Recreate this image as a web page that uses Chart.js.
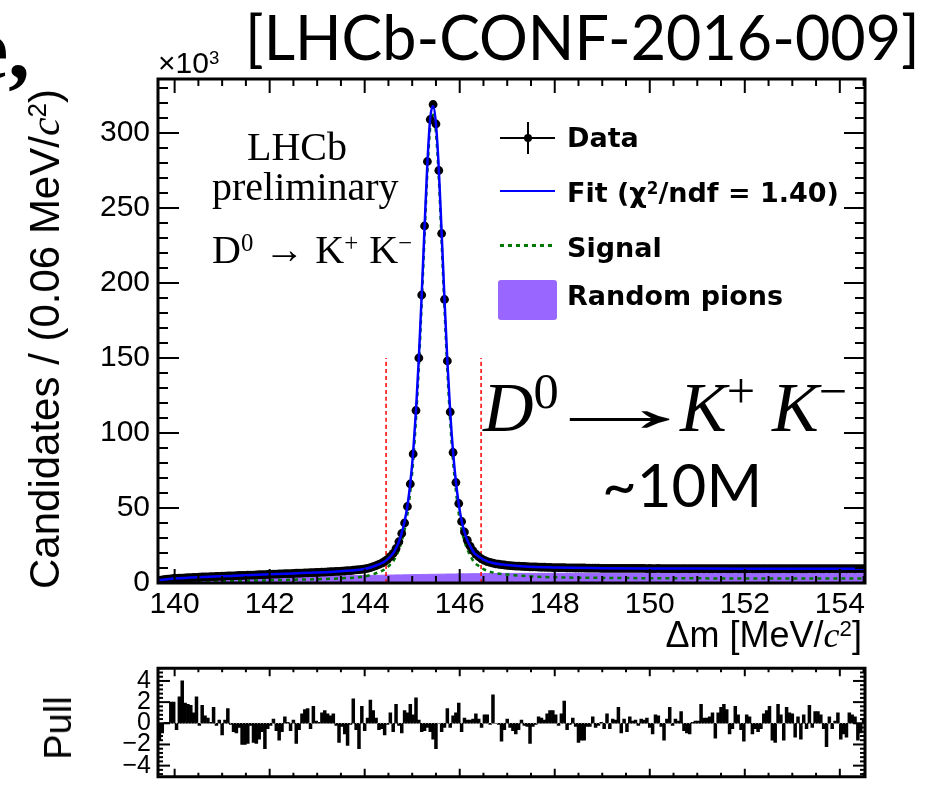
<!DOCTYPE html>
<html>
<head>
<meta charset="utf-8">
<script src="https://cdn.jsdelivr.net/npm/chart.js@4/dist/chart.umd.min.js"></script>
<style>
  html, body { margin: 0; padding: 0; background: #fff; }
  #page { position: relative; width: 929px; height: 795px; overflow: hidden; color: #000;
          font-family: "Liberation Sans", Arial, sans-serif; }
  canvas { position: absolute; left: 0; }
  .t { position: absolute; white-space: nowrap; line-height: 1; }
  .serif { font-family: "Liberation Serif", "Times New Roman", serif; }
  .geo { font-family: Lato, "DejaVu Sans", sans-serif; }
  .leg { font-family: "DejaVu Sans", sans-serif; font-weight: bold; font-size: 27px; left: 567px; }
  .tc { font-family: "Liberation Serif", serif; font-style: italic; }
  sup { font-size: 0.62em; line-height: 0; vertical-align: baseline; position: relative; top: -0.5em; }
  .big { font-size: 70px; top: 373px; }
  .big sup { font-size: 0.72em; top: -0.45em; }
  .rot { transform: translate(-50%, -50%) rotate(-90deg); }
  .sym { position: absolute; }
  .arrow { display: inline-block; transform-origin: left center; }
</style>
</head>
<body>
<div id="page">
  <canvas id="main" width="929" height="650" style="top:0"></canvas>
  <canvas id="pull" width="929" height="145" style="top:650px"></canvas>

  <div class="t serif" style="font-weight:bold;font-size:86px;left:-30px;top:6px">e,</div>
  <div class="t geo" style="font-size:61px;left:245px;top:6px">[LHCb-CONF-2016-009]</div>
  <div class="t" style="font-size:30px;left:158px;top:48px">×10<sup>3</sup></div>

  <div class="t rot" style="font-size:42px;left:45px;top:339px">Candidates / (0.06 MeV/<span class="tc">c</span><sup>2</sup>)</div>
  <div class="t" style="font-size:36px;right:67px;top:617px">Δm [MeV/<span class="tc">c</span><sup>2</sup>]</div>
  <div class="t rot" style="font-size:38px;left:58px;top:728px">Pull</div>

  <div class="t serif" style="font-size:40px;left:247px;top:127px">LHCb</div>
  <div class="t serif" style="font-size:40px;left:212px;top:167px">preliminary</div>
  <div class="t serif" style="font-size:40px;left:212px;top:230px;word-spacing:1px">D<sup>0</sup> → K<sup>+</sup> K<sup>−</sup></div>

  <!-- large decay label -->
  <div class="t serif big" style="left:483px"><i>D</i><sup>0</sup></div>
  <div class="t serif big" style="left:536px"><span class="arrow" style="transform:scaleX(2.4)">→</span></div>
  <div class="t serif big" style="left:680px"><i>K</i><sup>+</sup></div>
  <div class="t serif big" style="left:772px"><i>K</i><sup>−</sup></div>
  <div class="t geo" style="font-size:60px;left:602px;top:454px">~10M</div>

  <!-- legend -->
  <div class="sym" style="left:500px;top:137px;width:55px;height:2px;background:#000"></div>
  <div class="sym" style="left:527px;top:122px;width:2px;height:32px;background:#000"></div>
  <div class="sym" style="left:524px;top:134px;width:8px;height:8px;border-radius:50%;background:#000"></div>
  <div class="sym" style="left:500px;top:190px;width:55px;height:2px;background:#0000ff"></div>
  <div class="sym" style="left:500px;top:244px;width:55px;height:3px;background:repeating-linear-gradient(to right,#007700 0 4px,transparent 4px 8px)"></div>
  <div class="sym" style="left:498px;top:280px;width:59px;height:40px;border-radius:3px;background:rgb(153,102,255)"></div>
  <div class="t leg" style="top:124px">Data</div>
  <div class="t leg" style="top:179px">Fit (χ<sup>2</sup>/ndf = 1.40)</div>
  <div class="t leg" style="top:234px">Signal</div>
  <div class="t leg" style="top:282px">Random pions</div>
</div>

<script>
// histogram binning of Δm (MeV/c^2)
const BIN_LO = 139.65;
const BIN_W = 0.06;
const X_MIN = 139.65, X_MAX = 154.53;

// candidates per bin, in thousands
const candidates = [
  1.8, 2.1, 2.4, 2.6, 2.8, 3.0, 3.1, 3.2, 3.3, 3.4,
  3.5, 3.6, 3.7, 3.8, 3.9, 4.0, 4.0, 4.1, 4.2, 4.3,
  4.4, 4.4, 4.5, 4.6, 4.7, 4.7, 4.8, 4.9, 5.0, 5.0,
  5.1, 5.2, 5.3, 5.3, 5.4, 5.5, 5.6, 5.6, 5.7, 5.8,
  5.9, 5.9, 6.0, 6.1, 6.2, 6.2, 6.3, 6.4, 6.5, 6.5,
  6.6, 6.7, 6.8, 6.9, 6.9, 7.0, 7.1, 7.2, 7.3, 7.4,
  7.5, 7.6, 7.7, 7.8, 7.9, 8.0, 8.2, 8.3, 8.5, 8.7,
  8.9, 9.1, 9.4, 9.8, 10.3, 10.9, 11.6, 12.4, 13.3, 14.4,
  15.8, 17.6, 19.8, 23.0, 27.5, 33.0, 40.0, 51.0, 66.0, 86.0,
  115, 150, 192, 238, 281, 309, 319, 306, 275, 233,
  189, 148, 114, 87, 67, 53, 41, 34, 28.5, 24.5,
  21.5, 19.2, 17.5, 16.1, 15.1, 14.3, 13.7, 13.2, 12.8, 12.5,
  12.2, 12.0, 11.8, 11.6, 11.4, 11.3, 11.2, 11.1, 11.0, 10.9,
  10.8, 10.7, 10.7, 10.6, 10.5, 10.5, 10.4, 10.4, 10.3, 10.3,
  10.2, 10.2, 10.2, 10.1, 10.1, 10.1, 10.0, 10.0, 10.0, 10.0,
  9.9, 9.9, 9.9, 9.9, 9.9, 9.8, 9.8, 9.8, 9.8, 9.8,
  9.8, 9.8, 9.7, 9.7, 9.7, 9.7, 9.7, 9.7, 9.7, 9.7,
  9.7, 9.6, 9.7, 9.6, 9.6, 9.7, 9.6, 9.6, 9.6, 9.6,
  9.6, 9.6, 9.5, 9.6, 9.6, 9.6, 9.5, 9.6, 9.6, 9.5,
  9.6, 9.5, 9.6, 9.5, 9.5, 9.6, 9.5, 9.5, 9.6, 9.5,
  9.5, 9.5, 9.6, 9.5, 9.5, 9.5, 9.5, 9.6, 9.5, 9.5,
  9.5, 9.5, 9.5, 9.6, 9.5, 9.5, 9.5, 9.5, 9.5, 9.6,
  9.5, 9.5, 9.5, 9.5, 9.6, 9.5, 9.5, 9.5, 9.6, 9.5,
  9.5, 9.6, 9.5, 9.5, 9.6, 9.5, 9.6, 9.5, 9.6, 9.5,
  9.6, 9.5, 9.6, 9.6, 9.5, 9.6, 9.6, 9.6
];

// (data - fit) / error per bin
const pulls = [
  -1.6, -0.9, 0.1, 0.1, 2.0, 2.0, -0.6, 2.5, 4.0, 1.9,
  1.8, 1.7, 1.0, 2.5, -0.2, 1.7, 0.7, 0.5, 0.1, 1.5,
  -0.2, 0.3, -1.1, 0.3, 1.4, -0.1, -0.8, -0.9, -0.4, -2.0,
  -2.0, -1.9, -0.2, -1.8, -1.9, -1.5, -0.8, -2.4, -0.5, -0.2,
  0.4, -0.7, -1.6, -0.8, 0.6, 0.1, -0.7, 0.3, -1.9, -0.6,
  0.9, 1.3, 1.4, -0.5, 1.6, 0.2, 0.1, 1.0, 1.2, 0.9,
  0.7, 0.9, -0.2, -1.8, -0.3, -1.0, -2.1, -0.1, 2.3, -0.6,
  -2.4, 1.6, -0.7, 0.5, 2.2, 1.2, 0.5, -0.6, -0.5, -1.1,
  -0.1, 1.0,
  -0.8, 1.8, -0.2, -0.9,
  1.2, 1.0, 1.8, 0.8, 2.4, 0.3, -0.8, -0.7, -0.4, -0.8,
  -1.5, -2.4, 0.0, -0.8, -0.4, 1.4, -0.4, 0.7, 1.0, 1.9,
  -0.8, 0.5, 0.3, 0.3, 0.4, 0.9, 0.4, -0.4, 0.8, 0.8,
  -0.1, 2.7, 0.0, -0.1, -1.7, -0.6, 0.4, -0.4, -0.7, -1.0,
  -0.6, 0.3, -0.2, -0.3, -1.9, -0.3, -0.1,
  0.6, 0.5, 0.3, 0.9, 1.2, 1.2, 0.8, -0.2, 0.9, 2.1,
  -0.6, -0.1, 0.5,
  -0.3, -1.8, -1.6, -1.6, -0.3, -0.3, 0.6, -0.4,
  -0.2, 0.1, -0.5, 0.9, -0.5, 0.4, 0.3, 1.5, -0.9, 0.4,
  -0.8, 0.6, 0.2,
  0.3, -0.2, 0.4, 0.3, 0.5, -0.4, -1.0, 0.8, 0.7, -0.3,
  -1.6, 0.4, 1.5, -0.2, 0.4, 0.2, 1.1, -0.7, -0.9, -1.0,
  0.1, 0.2, 0.2, 1.8, 0.5, 0.5, 0.6, 1.0, -1.4, 1.0,
  1.5, 1.8, 1.3, -1.0, -0.5, 1.6, 0.8, -0.6, -1.7, 0.8,
  0.6, -1.0, -0.5, -0.8, -0.5, 0.9, 1.2, 1.6, -1.6, -1.8,
  1.8, 0.8, -1.6, 1.5, 1.0, 0.9, -1.3, 0.6, -1.5, 0.8,
  -0.5, 1.7, -0.4, 1.1, 1.1, 0.8, -0.5, -2.2, 0.6, -0.5,
  0.2, 1.0, -1.5, -1.0, -1.3, 1.0, 0.8, 0.6, -1.6, -0.9,
  0.4
];

// fit components sampled along Δm
const curveX = [
  139.65, 139.8, 140.0, 140.5, 141.0, 141.5, 142.0, 142.5, 143.0, 143.5, 144.0, 144.2, 144.4, 144.5, 144.6,
  144.66, 144.72, 144.78, 144.84, 144.90, 144.96, 145.02, 145.08, 145.14, 145.20, 145.26, 145.32, 145.38,
  145.44, 145.50, 145.56, 145.62, 145.68, 145.74, 145.80, 145.86, 145.92, 145.98, 146.04, 146.10, 146.16, 146.22,
  146.3, 146.4, 146.5, 146.7, 147.0, 147.5, 148.0, 149.0, 150.0, 151.0, 152.0, 153.0, 154.0, 154.53
];
const fitTotal = [
  1.7, 2.4, 3.0, 3.9, 4.5, 5.1, 5.8, 6.4, 7.0, 7.9, 9.4, 11.2, 13.9, 16.4, 19.8,
  23.2, 27.6, 33.4, 41.0, 51.5, 66.5, 87.0, 115, 150, 192, 237, 280, 310,
  318, 306, 276, 233, 189, 148, 114, 87.5, 67.5, 52.5, 41.5, 34.0, 28.6, 24.6,
  20.2, 17.6, 15.6, 13.3, 12.0, 10.8, 10.3, 9.9, 9.7, 9.6, 9.55, 9.55, 9.55, 9.55
];
const fitSignal = [
  0.4, 0.6, 0.7, 1.0, 1.2, 1.5, 1.8, 2.2, 2.5, 3.1, 4.4, 6.1, 8.7, 11.1, 14.5,
  17.8, 22.2, 28.0, 35.5, 46.0, 61.0, 81.4, 109.4, 144.4, 186.3, 231.3, 274.3, 304.2,
  312.2, 300.2, 270.1, 227.1, 183.1, 142.0, 108.0, 81.5, 61.5, 46.4, 35.4, 27.9, 22.5, 18.4,
  14.0, 11.4, 9.3, 7.0, 5.6, 4.4, 3.8, 3.4, 3.2, 3.1, 3.05, 3.05, 3.05, 3.05
];
const fitPions = [
  1.3, 1.8, 2.3, 2.9, 3.3, 3.6, 4.0, 4.2, 4.5, 4.8, 5.0, 5.1, 5.2, 5.3, 5.3,
  5.4, 5.4, 5.4, 5.5, 5.5, 5.5, 5.6, 5.6, 5.6, 5.7, 5.7, 5.7, 5.8,
  5.8, 5.8, 5.9, 5.9, 5.9, 6.0, 6.0, 6.0, 6.0, 6.1, 6.1, 6.1, 6.1, 6.2,
  6.2, 6.2, 6.3, 6.3, 6.4, 6.4, 6.5, 6.5, 6.5, 6.5, 6.5, 6.5, 6.5, 6.5
];

// signal window edges
const windowEdges = [144.45, 146.45];
const windowTop = 150;

const binCenters = candidates.map((_, i) => +(BIN_LO + BIN_W * (i + 0.5)).toFixed(3));
const pts = (xs, ys) => xs.map((x, i) => ({ x, y: ys[i] }));

const LABEL_FONT = '"Liberation Sans", Arial, sans-serif';

// ROOT-style frame with inward major/minor ticks on all four sides
function frameTicks(o) {
  return {
    id: 'frameTicks',
    afterDatasetsDraw(chart) {
      const { ctx, chartArea: a, scales: { x, y } } = chart;
      const line = (x0, y0, x1, y1) => { ctx.beginPath(); ctx.moveTo(x0, y0); ctx.lineTo(x1, y1); ctx.stroke(); };
      ctx.save();
      ctx.strokeStyle = '#000';
      ctx.lineWidth = 2;
      for (let k = Math.ceil(x.min / o.xMinor - 1e-9); k * o.xMinor <= x.max + 1e-9; k++) {
        const v = k * o.xMinor, px = x.getPixelForValue(v);
        const len = Math.abs(v / o.xMajor - Math.round(v / o.xMajor)) < 1e-6 ? o.xMajorLen : o.xMinorLen;
        line(px, a.bottom, px, a.bottom - len);
        line(px, a.top, px, a.top + len);
      }
      for (let k = Math.ceil(y.min / o.yMinor - 1e-9); k * o.yMinor <= y.max + 1e-9; k++) {
        const v = k * o.yMinor, py = y.getPixelForValue(v);
        const len = Math.abs(v / o.yMajor - Math.round(v / o.yMajor)) < 1e-6 ? o.yMajorLen : o.yMinorLen;
        line(a.left, py, a.left + len, py);
        line(a.right, py, a.right - len, py);
      }
      ctx.lineWidth = 3;
      ctx.strokeRect(a.left, a.top, a.right - a.left, a.bottom - a.top);
      ctx.restore();
    }
  };
}

const curve = (data, extra) => Object.assign({
  type: 'line', data, pointRadius: 0, fill: false, cubicInterpolationMode: 'monotone'
}, extra);

new Chart(document.getElementById('main'), {
  type: 'scatter',
  data: {
    datasets: [
      curve(pts(curveX, fitTotal), { borderColor: '#0000ff', borderWidth: 2.5, order: 0 }),
      { data: pts(binCenters, candidates), pointRadius: 4.4, pointBackgroundColor: '#000',
        pointBorderWidth: 0, order: 1 },
      curve(pts(curveX, fitSignal), { borderColor: '#007700', borderWidth: 2.5, borderDash: [4, 4], order: 2 }),
      ...windowEdges.map(e => curve([{ x: e, y: 0 }, { x: e, y: windowTop }],
        { borderColor: '#ff0000', borderWidth: 1.5, borderDash: [4, 3], order: 3 })),
      curve(pts(curveX, fitPions), { borderColor: 'rgb(153,102,255)', borderWidth: 1,
        backgroundColor: 'rgb(153,102,255)', fill: 'origin', order: 5 })
    ]
  },
  options: {
    responsive: false,
    animation: false,
    events: [],
    layout: { padding: { top: 79, right: 64, left: 0, bottom: 0 } },
    plugins: { legend: { display: false }, tooltip: { enabled: false } },
    scales: {
      x: {
        type: 'linear', min: X_MIN, max: X_MAX,
        grid: { display: false, drawTicks: false }, border: { display: false },
        afterFit: s => { s.height = 67; },
        ticks: { stepSize: 2, includeBounds: false, autoSkip: false, maxRotation: 0, padding: 4,
                 color: '#000', font: { family: LABEL_FONT, size: 30 } }
      },
      y: {
        min: 0, max: 336,
        grid: { display: false, drawTicks: false }, border: { display: false },
        afterFit: s => { s.width = 158; },
        ticks: { stepSize: 50, includeBounds: false, autoSkip: false, padding: 8,
                 color: '#000', font: { family: LABEL_FONT, size: 30 } }
      }
    }
  },
  plugins: [frameTicks({ xMinor: 0.5, xMajor: 2, xMajorLen: 14, xMinorLen: 7,
                         yMinor: 10, yMajor: 50, yMajorLen: 21, yMinorLen: 10 })]
});

new Chart(document.getElementById('pull'), {
  type: 'bar',
  data: {
    datasets: [
      { data: pts(binCenters, pulls), backgroundColor: '#000', borderWidth: 0,
        barPercentage: 1, categoryPercentage: 1, order: 1 },
      { type: 'line', data: [{ x: X_MIN, y: 0 }, { x: X_MAX, y: 0 }], borderColor: '#999',
        borderWidth: 1, borderDash: [1, 2], pointRadius: 0, order: 0 }
    ]
  },
  options: {
    responsive: false,
    animation: false,
    events: [],
    layout: { padding: { top: 15, right: 64, left: 0, bottom: 0 } },
    plugins: { legend: { display: false }, tooltip: { enabled: false } },
    scales: {
      x: {
        type: 'linear', min: X_MIN, max: X_MAX, offset: false,
        grid: { display: false, drawTicks: false }, border: { display: false },
        ticks: { display: false },
        afterFit: s => { s.height = 3; }
      },
      y: {
        min: -5.05, max: 5.2,
        grid: { display: false, drawTicks: false }, border: { display: false },
        afterFit: s => { s.width = 158; },
        ticks: { stepSize: 2, includeBounds: false, autoSkip: false, padding: 7, color: '#000',
                 font: { family: LABEL_FONT, size: 25, lineHeight: 0.9 },
                 callback: v => (v < 0 ? '\u2212' + Math.abs(v) : String(v)) }
      }
    }
  },
  plugins: [frameTicks({ xMinor: 0.5, xMajor: 2, xMajorLen: 8, xMinorLen: 4,
                         yMinor: 0.4, yMajor: 2, yMajorLen: 12, yMinorLen: 5 })]
});
</script>
</body>
</html>
